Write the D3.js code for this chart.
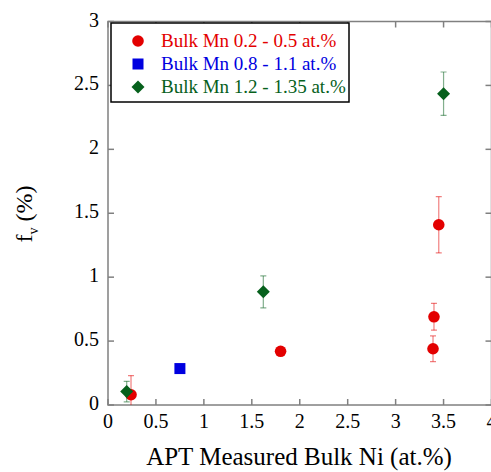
<!DOCTYPE html>
<html>
<head>
<meta charset="utf-8">
<script src="https://cdn.jsdelivr.net/npm/d3@7"></script>
<style>
body { margin: 0; background: #fff; }
svg { font-family: "Liberation Serif", "Times New Roman", serif; }
</style>
</head>
<body>
<script>
// data
var seriesNames = ["Bulk Mn 0.2 - 0.5 at.%", "Bulk Mn 0.8 - 1.1 at.%", "Bulk Mn 1.2 - 1.35 at.%"];
var seriesColors = ["#e30000", "#0000e0", "#06601c"];
var seriesShapes = ["circle", "square", "diamond"];

var lowMnNi = [0.24, 1.80, 3.39, 3.40, 3.45];
var lowMnFv = [0.08, 0.42, 0.44, 0.69, 1.41];
var lowMnErr = [0.15, 0, 0.10, 0.105, 0.22];

var midMnNi = [0.75];
var midMnFv = [0.285];
var midMnErr = [0];

var highMnNi = [0.195, 1.62, 3.50];
var highMnFv = [0.105, 0.885, 2.435];
var highMnErr = [0.08, 0.125, 0.17];

var xTicks = [0, 0.5, 1, 1.5, 2, 2.5, 3, 3.5, 4];
var yTicks = [0, 0.5, 1, 1.5, 2, 2.5, 3];

var W = 491, H = 472;
var svg = d3.select("body").append("svg").attr("width", W).attr("height", H);

var x = d3.scaleLinear().domain([0, 4]).range([108, 491.5]);
var y = d3.scaleLinear().domain([0, 3]).range([405, 21.5]);

var axisColor = "#808080";

svg.append("clipPath").attr("id", "clip").append("rect")
  .attr("x", x(0)).attr("y", y(3)).attr("width", x(4) - x(0)).attr("height", y(0) - y(3));

// frame
svg.append("rect")
  .attr("x", x(0)).attr("y", y(3))
  .attr("width", x(4) - x(0)).attr("height", y(0) - y(3))
  .attr("fill", "none").attr("stroke", axisColor).attr("stroke-width", 1.5);

// inward ticks on all four sides
var tl = 6;
xTicks.forEach(function(t){
  svg.append("line").attr("x1", x(t)).attr("x2", x(t)).attr("y1", y(0)).attr("y2", y(0) - tl)
    .attr("stroke", axisColor).attr("stroke-width", 1.5);
  svg.append("line").attr("x1", x(t)).attr("x2", x(t)).attr("y1", y(3)).attr("y2", y(3) + tl)
    .attr("stroke", axisColor).attr("stroke-width", 1.5);
  svg.append("text").attr("x", x(t)).attr("y", y(0) + 23)
    .attr("text-anchor", "middle").attr("font-size", 20).text(d3.format("")(t));
});
yTicks.forEach(function(t){
  svg.append("line").attr("x1", x(0)).attr("x2", x(0) + tl).attr("y1", y(t)).attr("y2", y(t))
    .attr("stroke", axisColor).attr("stroke-width", 1.5);
  svg.append("line").attr("x1", x(4)).attr("x2", x(4) - tl).attr("y1", y(t)).attr("y2", y(t))
    .attr("stroke", axisColor).attr("stroke-width", 1.5);
  svg.append("text").attr("x", 99).attr("y", y(t) + 5)
    .attr("text-anchor", "end").attr("font-size", 20).text(d3.format("")(t));
});

// axis titles
svg.append("text").attr("x", 299).attr("y", 465)
  .attr("text-anchor", "middle").attr("font-size", 25).text("APT Measured Bulk Ni (at.%)");

var yt = svg.append("text").attr("transform", "translate(32,214) rotate(-90)")
  .attr("text-anchor", "middle").attr("font-size", 24);
yt.append("tspan").text("f");
yt.append("tspan").attr("font-size", 14).attr("dy", 6).text("v");
yt.append("tspan").attr("dy", -6).text(" (%)");

function marker(g, shape, cx, cy, color) {
  if (shape === "circle") {
    g.append("circle").attr("cx", cx).attr("cy", cy).attr("r", 5.8).attr("fill", color);
  } else if (shape === "square") {
    g.append("rect").attr("x", cx - 5.5).attr("y", cy - 5.5).attr("width", 11).attr("height", 11).attr("fill", color);
  } else {
    var s = 6.5;
    g.append("path").attr("d", "M" + cx + "," + (cy - s) + "L" + (cx + s) + "," + cy + "L" + cx + "," + (cy + s) + "L" + (cx - s) + "," + cy + "Z")
      .attr("fill", color);
  }
}

var allSeries = [
  [lowMnNi, lowMnFv, lowMnErr],
  [midMnNi, midMnFv, midMnErr],
  [highMnNi, highMnFv, highMnErr]
];

var plot = svg.append("g");
allSeries.forEach(function(s, k){
  var g = plot.append("g");
  var eg = g.append("g").attr("clip-path", "url(#clip)");
  s[0].forEach(function(v, i){
    var e = s[2][i];
    if (e > 0) {
      var cx = x(v);
      eg.append("line").attr("x1", cx).attr("x2", cx).attr("y1", y(s[1][i] - e)).attr("y2", y(s[1][i] + e))
        .attr("stroke", seriesColors[k]).attr("stroke-opacity", 0.5).attr("stroke-width", 1.2);
      [s[1][i] - e, s[1][i] + e].forEach(function(yy){
        eg.append("line").attr("x1", cx - 3).attr("x2", cx + 3).attr("y1", y(yy)).attr("y2", y(yy))
          .attr("stroke", seriesColors[k]).attr("stroke-opacity", 0.5).attr("stroke-width", 1.2);
      });
    }
  });
  s[0].forEach(function(v, i){
    marker(g, seriesShapes[k], x(v), y(s[1][i]), seriesColors[k]);
  });
});

// legend
var lg = svg.append("g");
lg.append("rect").attr("x", 111).attr("y", 23).attr("width", 238).attr("height", 79)
  .attr("fill", "#fff").attr("stroke", "#000").attr("stroke-width", 1.5);
seriesNames.forEach(function(n, k){
  var ly = 41 + k * 23;
  marker(lg, seriesShapes[k], 138, ly, seriesColors[k]);
  lg.append("text").attr("x", 161).attr("y", ly + 6).attr("font-size", 19)
    .attr("fill", seriesColors[k]).text(n);
});
</script>
</body>
</html>
